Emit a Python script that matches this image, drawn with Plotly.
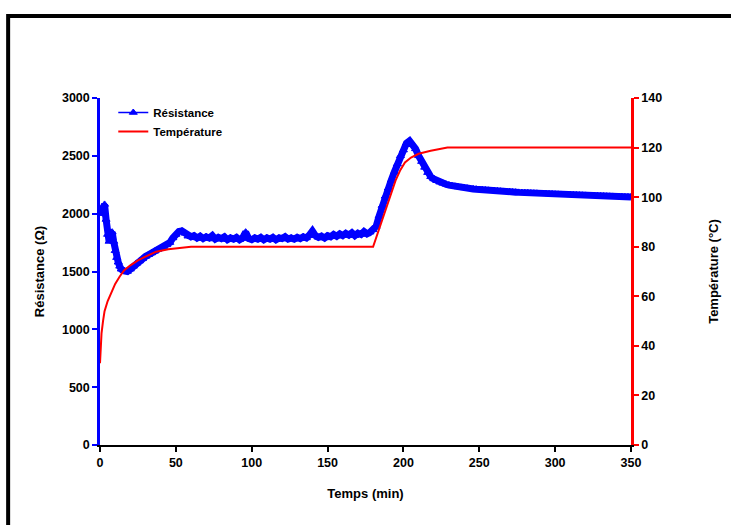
import plotly.graph_objects as go

# Resistance measurement (min, ohm)
time_r = [0, 1, 2, 3, 4, 5, 6, 7, 8, 9, 10, 11, 12, 13, 14, 16, 18,
          20, 22, 24, 26, 28, 30, 32, 34, 36, 38, 40, 42, 44, 46, 48, 50,
          52, 54, 56, 58, 60, 62, 64, 66, 68, 70, 72, 74, 76, 78, 80, 82,
          84, 86, 88, 90, 92, 94, 96, 98, 100, 102, 104, 106, 108, 110,
          112, 114, 116, 118, 120, 122, 124, 126, 128, 130, 132, 134, 136,
          138, 140, 142, 144, 146, 148, 150, 152, 154, 156, 158, 160, 162,
          164, 166, 168, 170, 172, 174, 176, 178, 180, 182, 184, 186, 188,
          190, 192, 194, 196, 198, 200, 202, 204, 206, 208, 210, 212, 214,
          216, 218, 220, 222, 224, 226, 228, 230, 232, 234, 236, 238, 240,
          242, 244, 246, 248, 250, 252, 254, 256, 258, 260, 262, 264, 266,
          268, 270, 272, 274, 276, 278, 280, 282, 284, 286, 288, 290, 292,
          294, 296, 298, 300, 302, 304, 306, 308, 310, 312, 314, 316, 318,
          320, 322, 324, 326, 328, 330, 332, 334, 336, 338, 340, 342, 344,
          346, 348, 350]
resistance = [2000, 2010, 2050, 2080, 1950, 1820, 1760, 1800, 1840, 1760,
              1680, 1620, 1580, 1545, 1520, 1505, 1500,
              1520, 1545, 1570, 1590, 1610, 1630, 1645, 1660, 1675, 1690,
              1700, 1715, 1730, 1750, 1790, 1820, 1845, 1850, 1830, 1805,
              1800, 1810, 1790, 1805, 1785, 1800, 1790, 1810, 1780, 1795,
              1785, 1800, 1775, 1790, 1780, 1795, 1775, 1790, 1840, 1785,
              1775, 1790, 1780, 1795, 1775, 1790, 1780, 1795, 1775, 1790,
              1785, 1800, 1780, 1790, 1780, 1795, 1785, 1800, 1790, 1815,
              1850, 1810, 1795, 1805, 1790, 1810, 1800, 1820, 1805, 1825,
              1810, 1830, 1815, 1835, 1810, 1830, 1820, 1845, 1825, 1840,
              1860, 1890, 1980, 2070, 2150, 2220, 2290, 2360, 2430, 2500,
              2550, 2610, 2630, 2600, 2560, 2500, 2450, 2400, 2355, 2320,
              2300, 2285, 2272, 2262, 2254, 2247, 2241, 2236, 2231, 2227,
              2223, 2220, 2217, 2214, 2211, 2208, 2206, 2204, 2202, 2200,
              2198, 2196, 2194, 2192, 2191, 2189, 2187, 2186, 2184, 2183,
              2181, 2180, 2178, 2177, 2176, 2174, 2173, 2172, 2171, 2170,
              2168, 2167, 2166, 2165, 2164, 2163, 2162, 2161, 2160, 2159,
              2158, 2157, 2156, 2155, 2154, 2153, 2152, 2151, 2150, 2149,
              2148, 2147, 2146, 2145, 2145, 2144]

# Temperature profile (min, degC)
time_t = [0, 0.5, 1, 2, 3, 5, 7, 10, 13, 16, 20, 25, 30, 37, 45, 52, 60,
          180, 185, 190, 195, 198, 201, 205, 210, 218, 229, 350]
temperature = [33, 40, 45, 50, 54, 58, 61, 65, 68, 70.5, 72.5, 74.5, 76,
               78, 79, 79.6, 80, 80, 89, 98, 107, 111, 114, 116, 117.5,
               118.7, 120, 120]

x_ticks = [0, 50, 100, 150, 200, 250, 300, 350]
r_ticks = [0, 500, 1000, 1500, 2000, 2500, 3000]
t_ticks = [0, 20, 40, 60, 80, 100, 120, 140]

FONT = "Liberation Sans, Arial, sans-serif"
BLUE = "#0000FF"
RED = "#FF0000"

fig = go.Figure()
# thick line under the markers gives the dense-sampling band look
fig.add_trace(go.Scatter(
    x=time_r, y=resistance, mode="lines", showlegend=False,
    line=dict(color=BLUE, width=7), yaxis="y", hoverinfo="skip"))
fig.add_trace(go.Scatter(
    x=time_r, y=resistance, name="Résistance", mode="lines+markers",
    line=dict(color=BLUE, width=1.5),
    marker=dict(symbol="triangle-up", size=7, color=BLUE,
                line=dict(color=BLUE, width=1)),
    yaxis="y"))
fig.add_trace(go.Scatter(
    x=time_t, y=temperature, name="Température", mode="lines",
    line=dict(color=RED, width=2), yaxis="y2"))

tick_font = dict(family=FONT, size=12.5, color="black", weight="bold")
title_font = dict(family=FONT, size=13, color="black", weight="bold")

fig.update_layout(
    width=731, height=525,
    margin=dict(l=100, r=100, t=98, b=80),
    paper_bgcolor="white", plot_bgcolor="white",
    showlegend=True,
    legend=dict(x=0.025, y=1.0, xanchor="left", yanchor="top",
                font=dict(family=FONT, size=11.5, color="black", weight="bold"),
                bgcolor="rgba(0,0,0,0)", itemwidth=30, tracegroupgap=0),
    xaxis=dict(range=[0, 350], tickvals=x_ticks, showgrid=False,
               zeroline=False, showline=True, linecolor="black", linewidth=2,
               ticks="outside", ticklen=5, tickwidth=2, tickcolor="black",
               tickfont=tick_font,
               title=dict(text="Temps (min)", font=title_font, standoff=20)),
    yaxis=dict(range=[0, 3000], tickvals=r_ticks, showgrid=False,
               zeroline=False, showline=True, linecolor=BLUE, linewidth=2.5,
               ticks="outside", ticklen=5, tickwidth=2, tickcolor=BLUE,
               tickfont=tick_font,
               title=dict(text="Résistance (Ω)", font=title_font, standoff=15)),
    yaxis2=dict(range=[0, 140], tickvals=t_ticks, overlaying="y",
                side="right", showgrid=False, zeroline=False, showline=True,
                linecolor=RED, linewidth=2.5, ticks="outside", ticklen=5,
                tickwidth=2, tickcolor=RED, tickfont=tick_font,
                title=dict(text="Température (°C)", font=title_font,
                           standoff=48)),
)

# Outer frame around the chart (left and top edges visible)
fig.add_shape(type="path", xref="paper", yref="paper",
              path="M -0.173,-0.5 L -0.173,1.236 L 1.3,1.236",
              line=dict(color="black", width=4), layer="above")

fig.write_html("out.html")
